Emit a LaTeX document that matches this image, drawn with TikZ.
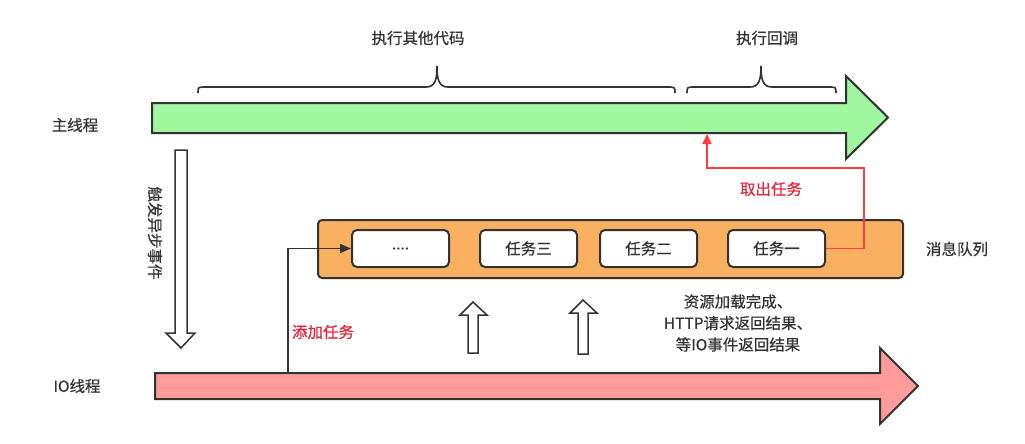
\documentclass[tikz,border=0pt]{standalone}
\usepackage{fontspec}
\setmainfont{Noto Sans CJK SC}
\newfontfamily\medfont[FakeBold=0.5]{Noto Sans CJK SC}
\usetikzlibrary{arrows.meta}
\definecolor{mgreen}{HTML}{A0F7A0}
\definecolor{iopink}{HTML}{FF9B9B}
\definecolor{qorange}{HTML}{FAB061}
\definecolor{dk}{HTML}{333333}
\definecolor{rline}{HTML}{FF3B3B}
\definecolor{rtext}{HTML}{E8213A}
\tikzset{
  bigarrow/.style={draw=dk, line width=2pt, line join=miter},
  hollow/.style={draw=dk, line width=1.5pt, fill=white, line join=miter},
  tlabel/.style={text=dk, font=\medfont\fontsize{15.5}{21.5}\selectfont, inner sep=0pt},
  rlabel/.style={text=rtext, font=\medfont\fontsize{15.5}{21.5}\selectfont, inner sep=0pt},
  qbox/.style={draw=dk, line width=2pt, fill=qorange, rounded corners=4pt, inner sep=0pt},
  taskbox/.style={draw=dk, line width=2pt, fill=white, rounded corners=5pt, inner sep=0pt,
    minimum width=97pt, minimum height=37pt, text=dk, font=\medfont\fontsize{15.5}{21.5}\selectfont},
  bracestyle/.style={draw=dk, line width=1.6pt},
  redline/.style={draw=rline, line width=1.6pt, -{Triangle[length=10pt,width=9pt]}},
  blkline/.style={draw=dk, line width=1.6pt, -{Triangle[length=11pt,width=9pt]}}
}
\begin{document}
\begin{tikzpicture}[x=1pt,y=-1pt]
\useasboundingbox (0,0) rectangle (1025,444);
% main thread arrow
\draw[bigarrow, fill=mgreen] (152,103) -- (846,103) -- (846,76) -- (888,117.5) -- (846,159) -- (846,133) -- (152,133) -- cycle;
% IO thread arrow
\draw[bigarrow, fill=iopink] (155,373) -- (880,373) -- (880,348) -- (918,386) -- (880,424) -- (880,399) -- (155,399) -- cycle;
\coordinate (mt) at (707,134);
\coordinate (rc) at (864,168);
\coordinate (ioa) at (288,372);
% labels
\node[tlabel] (main) at (75,125) {主线程};
\node[tlabel] (io) at (77,386) {IO线程};
\node[tlabel] (code) at (418,38) {执行其他代码};
\node[tlabel] (cb) at (767,38) {执行回调};
% braces
\draw[bracestyle] (198,93) .. controls (198,87) .. (206,87) -- (426,87) .. controls (435,87) and (437,80) .. (437,66) .. controls (437,80) and (439,87) .. (448,87) -- (667,87) .. controls (675,87) .. (675,93);
\draw[bracestyle] (687,93) .. controls (687,87) .. (695,87) -- (750,87) .. controls (759,87) and (761,80) .. (761,66) .. controls (761,80) and (763,87) .. (772,87) -- (828,87) .. controls (836,87) .. (836,93);
% down hollow arrow
\draw[hollow] (175,150) -- (187,150) -- (187,333) -- (195,333) -- (181,348) -- (166,333) -- (175,333) -- cycle;
\node[tlabel, rotate=-90] (trig) at (155,233) {触发异步事件};
% queue
\node[qbox, minimum width=585pt, minimum height=58pt] (queue) at (610.5,249) {};
\node[taskbox] (dots) at (400.5,248.5) {....};
\node[taskbox] (t3) at (528.5,248.5) {任务三};
\node[taskbox] (t2) at (648.5,248.5) {任务二};
\node[taskbox] (t1) at (776.5,248.5) {任务一};
\node[tlabel] (mq) at (957,249) {消息队列};
% connectors
\draw[redline] (t1.east) -| (rc) -| (mt);
\node[rlabel] (take) at (771,189) {取出任务};
\draw[blkline] (ioa) |- (dots.west);
\node[rlabel] (add) at (323,332) {添加任务};
% up hollow arrows
\draw[hollow] (468,353) -- (468,315) -- (460,315) -- (473,302) -- (487,315) -- (478,315) -- (478,353) -- cycle;
\draw[hollow] (578,354) -- (578,313) -- (570,313) -- (583,300) -- (597,313) -- (588,313) -- (588,354) -- cycle;
% text block
\node[tlabel, align=center] (ev) at (738,323) {资源加载完成、\\HTTP请求返回结果、\\等IO事件返回结果};
\end{tikzpicture}
\end{document}
